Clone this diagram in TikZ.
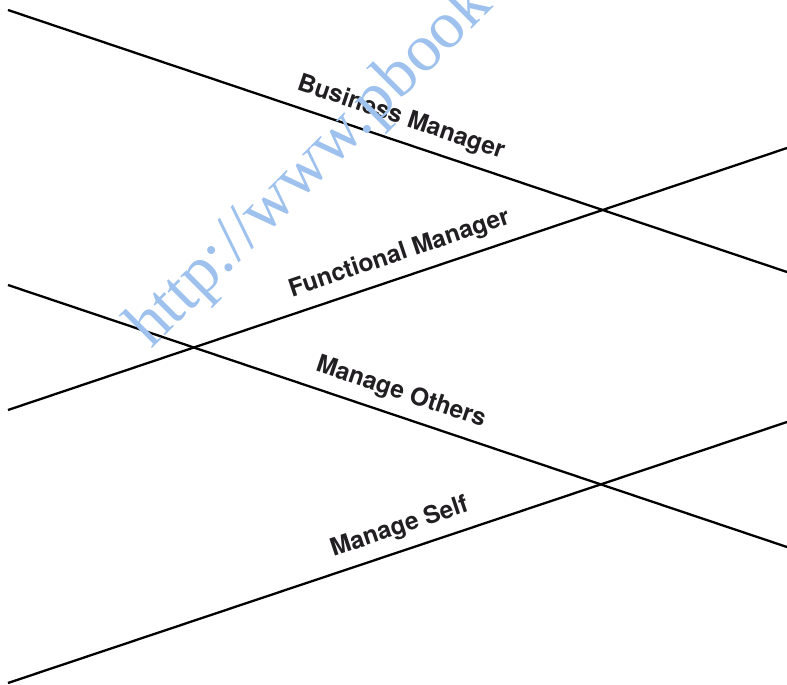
\documentclass[tikz,border=0pt]{standalone}
\usepackage{fontspec}
\usepackage{tikz}
\usetikzlibrary{positioning}
\newfontfamily\labelfont{TeX Gyre Heros}
\newfontfamily\markfont{Liberation Serif}
\definecolor{ink}{rgb}{0.13, 0.12, 0.13}
\definecolor{lblue}{rgb}{0.62, 0.76, 0.93}
\tikzset{level/.style = {draw=black, line width=2.3pt}}
\tikzset{levellabel/.style = {font=\labelfont\bfseries\fontsize{24.5}{27}\selectfont,
                              text=ink, sloped, inner sep=2pt, above=8pt}}

\begin{document}
\begin{tikzpicture}[x=1pt, y=-1pt]
    \useasboundingbox (0, 0) rectangle (787, 685);

    % the two descending lines
    \draw [level] (8, 10) -- (787, 272) node [levellabel, pos=0.495] (business) {Business Manager};
    \draw [level] (8, 285) -- (787, 547) node [levellabel, pos=0.495] (others) {Manage Others};

    % the two rising lines
    \draw [level] (8, 410) -- (787, 148) node [levellabel, pos=0.512] (functional) {Functional Manager};
    \draw [level] (8, 683) -- (787, 422) node [levellabel, pos=0.512] (self) {Manage Self};

    \node [anchor=base west, rotate=45, inner sep=0pt, text=lblue,
           font=\markfont\fontsize{67}{67}\selectfont] (url) at (151, 350) {http://www.pbook};
  \end{tikzpicture}
\end{document}
